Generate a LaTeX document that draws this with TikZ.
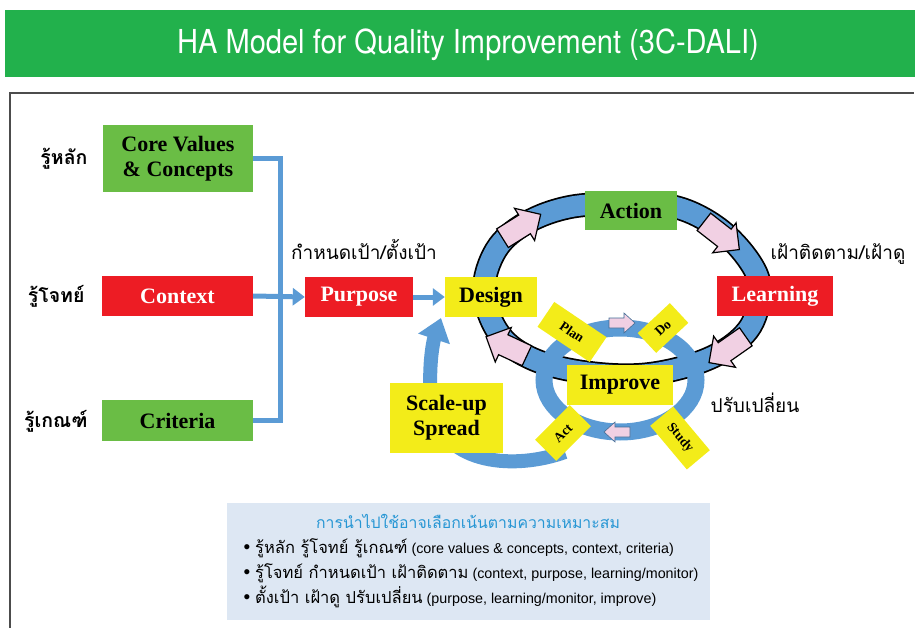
\documentclass[tikz,border=0pt]{standalone}
\usepackage{fontspec}
\setmainfont{Liberation Serif}
\setsansfont{Liberation Sans}
\newfontfamily\thaifont[Script=Thai]{Loma}
\newfontfamily\headfont[FakeStretch=0.88]{TeX Gyre Heros}
\usetikzlibrary{arrows.meta}

\definecolor{bandgreen}{RGB}{34,177,76}
\definecolor{boxgreen}{RGB}{106,189,69}
\definecolor{boxred}{RGB}{237,28,36}
\definecolor{boxyellow}{RGB}{243,236,25}
\definecolor{ringblue}{RGB}{91,155,213}
\definecolor{arrowpink}{RGB}{241,208,227}
\definecolor{notefill}{RGB}{221,231,243}
\definecolor{noteblue}{RGB}{38,150,212}

\newcommand{\thai}[1]{{\thaifont\fontsize{16.5}{19}\selectfont #1}}
\newcommand{\dotmark}{{\fontsize{19}{19}\selectfont\textbullet}\hspace{5pt}}

\tikzset{
  blockarrow/.pic={
    \draw[fill=arrowpink, line width=1.2pt, line join=miter]
      (-23,-11) -- (3,-11) -- (3,-19) -- (22,0) -- (3,19) -- (3,11) -- (-23,11) -- cycle;
  },
  smallarrow/.pic={
    \draw[fill=arrowpink, draw=ringblue!70!black, line width=0.6pt]
      (-13,-5) -- (2,-5) -- (2,-10) -- (13,0) -- (2,10) -- (2,5) -- (-13,5) -- cycle;
  }
}

\begin{document}
\begin{tikzpicture}[x=1pt, y=-1pt,
  box/.style={minimum height=40, inner sep=0pt, font=\fontsize{22}{25}\selectfont\bfseries},
  greenbox/.style={box, fill=boxgreen},
  redbox/.style={box, fill=boxred, text=white},
  yellowbox/.style={box, fill=boxyellow},
  tag/.style={fill=boxyellow, inner sep=0pt, font=\fontsize{13.5}{15}\selectfont\bfseries},
  know/.style={font=\thaifont\bfseries\fontsize{19.5}{22}\selectfont, anchor=base east},
  note/.style={font=\thaifont\fontsize{19}{21}\selectfont, anchor=base},
  noteline/.style={font=\sffamily\fontsize{14.3}{16}\selectfont, anchor=base west},
  pipe/.style={draw=ringblue, line width=5pt},
  pipearrow/.style={pipe, -{Triangle[width=17pt,length=12pt]}}
]
\useasboundingbox (0,0) rectangle (915,628);

% header and frame
\fill[bandgreen] (5,10) rectangle (915,77);
\node[text=white, font=\headfont\fontsize{33}{36}\selectfont] (title) at (468,45) {HA Model for Quality Improvement (3C-DALI)};
\draw[black!70, line width=1.5pt] (10,628) -- (10,93) -- (914,93);

% big DALI loop
\foreach \w/\c in {24/black, 20.5/ringblue}
  \draw[line width=\w pt, \c] plot[smooth cycle, tension=0.6] coordinates {
    (623,204) (675,207) (718,228) (750,262) (760,292) (748,330) (710,358)
    (650,374) (590,373) (535,360) (500,335) (484,292) (496,250) (526,223) (570,207)};
\pic[rotate=32] at (522,226) {blockarrow};
\pic[rotate=-38] at (722,236) {blockarrow};
\pic[rotate=-145] at (727,350) {blockarrow};
\pic[rotate=155] at (506,346) {blockarrow};

% PDSA loop
\draw[ringblue, line width=17pt] (620,380) ellipse [x radius=76, y radius=52];
\pic at (622,323) {smallarrow};
\pic[rotate=180] at (617,432) {smallarrow};

% spread back to design
\draw[ringblue, line width=14pt, -{Triangle[width=32pt,length=22pt]}]
  (565,452) .. controls (515,470) and (445,465) .. (433,410)
  .. controls (427,380) and (432,345) .. (441,318);

% 3C
\node[greenbox, minimum width=150, minimum height=67, align=center] (core) at (178,158.5) {Core Values\\\& Concepts};
\node[redbox, minimum width=151] (context) at (177.5,296) {Context};
\node[greenbox, minimum width=151, minimum height=41] (crit) at (177.5,420.5) {Criteria};
\node[know] (kcore) at (91,165) {รู้หลัก};
\node[know] (kcontext) at (88,302) {รู้โจทย์};
\node[know] (kcrit) at (91,427) {รู้เกณฑ์};

% DALI
\node[redbox, minimum width=108] (purpose) at (359,297) {Purpose};
\node[note] (setgoal) at (364,260) {กำหนดเป้า/ตั้งเป้า};
\node[yellowbox, minimum width=92] (design) at (491,297) {Design};
\node[greenbox, minimum width=92, minimum height=39] (action) at (631,210.5) {Action};
\node[redbox, minimum width=116] (learn) at (775,296) {Learning};
\node[note] (monitor) at (838,260) {เฝ้าติดตาม/เฝ้าดู};
\node[yellowbox, minimum width=106] (improve) at (620,385) {Improve};
\node[note] (adjust) at (755,412) {ปรับเปลี่ยน};
\node[yellowbox, minimum width=113, minimum height=70, align=center] (spread) at (446.5,418) {Scale-up\\Spread};

\node[tag, minimum width=63, minimum height=30, rotate=-34] (plan) at (572,332) {Plan};
\node[tag, minimum width=44, minimum height=27, rotate=43] (do) at (663,328) {Do};
\node[tag, minimum width=57, minimum height=30, rotate=-50] (study) at (680,438) {Study};
\node[tag, minimum width=49, minimum height=30, rotate=45] (act) at (563,433) {Act};

\coordinate (join) at (280,296);
\draw[pipe] (core.east) -| (join) |- (crit.east);
\draw[pipearrow] (context.east) -- (purpose.west);
\draw[pipearrow] (purpose.east) -- (design.west);

% how to apply
\node[fill=notefill, minimum width=483, minimum height=117, anchor=north west] (notebox) at (227,503) {};
\node[note, text=noteblue, font=\thaifont\fontsize{15.8}{18}\selectfont] (notehead) at (468,528) {การนำไปใช้อาจเลือกเน้นตามความเหมาะสม};
\node[noteline] (line1) at (240,553) {\dotmark\thai{รู้หลัก รู้โจทย์ รู้เกณฑ์} (core values \& concepts, context, criteria)};
\node[noteline] (line2) at (240,578) {\dotmark\thai{รู้โจทย์ กำหนดเป้า เฝ้าติดตาม} (context, purpose, learning/monitor)};
\node[noteline] (line3) at (240,603) {\dotmark\thai{ตั้งเป้า เฝ้าดู ปรับเปลี่ยน} (purpose, learning/monitor, improve)};
\end{tikzpicture}
\end{document}
